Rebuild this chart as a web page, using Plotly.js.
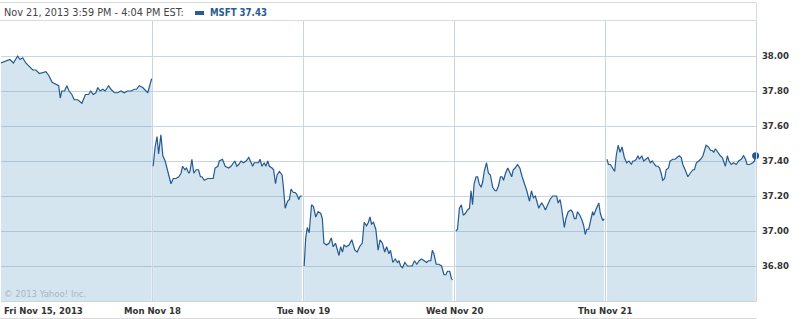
<!DOCTYPE html>
<html><head><meta charset="utf-8">
<script src="https://cdn.plot.ly/plotly-3.0.1.min.js"></script>
<style>html,body{margin:0;padding:0;background:#fff;}#chart{width:801px;height:319px;}</style>
</head><body><div id="chart"></div>
<script>
// ---- data ----
const dayLabels = ['Fri Nov 15, 2013', 'Mon Nov 18', 'Tue Nov 19', 'Wed Nov 20', 'Thu Nov 21'];
const yTicks = [36.8, 37.0, 37.2, 37.4, 37.6, 37.8, 38.0];
const headerText = 'Nov 21, 2013 3:59 PM - 4:04 PM EST:';
const symbol = 'MSFT';
const SESSION_MIN = 390; // 9:30 - 16:00

// minutes after the open, and price
const friMin = [0,13,23,32,43,49,56,64,73,82,90,99,116,123,132,142,149,153,157,164,170,176,183,189,198,209,218,226,232,238,245,250,256,263,269,278,284,293,301,310,318,327,336,344,350,357,366,379,385,389];
const friPx  = [37.96,37.97,37.98,37.96,38.00,37.98,37.99,37.96,37.94,37.92,37.92,37.90,37.91,37.89,37.85,37.84,37.83,37.76,37.80,37.80,37.83,37.80,37.78,37.75,37.75,37.73,37.78,37.78,37.80,37.78,37.79,37.82,37.80,37.81,37.80,37.83,37.81,37.79,37.79,37.80,37.79,37.80,37.80,37.81,37.81,37.83,37.82,37.79,37.83,37.87];

const monMin = [3,8,13,17,23,28,34,40,49,55,62,69,75,79,85,89,95,98,103,108,114,120,125,129,135,144,152,158,163,170,174,182,189,198,204,210,214,219,224,230,236,243,250,256,260,264,270,275,279,284,290,294,299,303,310,314,319,323,329,336,339,344,350,355,359,365,370,374,379,383,387];
const monPx  = [37.37,37.48,37.54,37.44,37.55,37.43,37.40,37.35,37.27,37.30,37.30,37.31,37.33,37.37,37.35,37.36,37.33,37.34,37.41,37.33,37.35,37.35,37.31,37.31,37.29,37.30,37.30,37.30,37.36,37.37,37.40,37.41,37.37,37.36,37.37,37.39,37.40,37.37,37.38,37.40,37.39,37.40,37.42,37.39,37.37,37.39,37.39,37.39,37.41,37.37,37.39,37.37,37.40,37.37,37.36,37.35,37.27,37.32,37.34,37.32,37.26,37.13,37.17,37.18,37.24,37.22,37.22,37.21,37.18,37.20,37.20];

const tueMin = [3,7,11,16,22,27,33,39,46,50,54,61,67,73,78,84,89,93,97,102,106,112,119,126,130,134,140,146,153,158,164,169,173,177,182,188,194,199,205,211,216,222,226,232,238,244,248,252,257,263,270,276,282,288,294,300,306,313,319,324,330,334,338,344,351,358,364,369,373,379,383,386];
const tuePx  = [36.80,36.96,37.02,36.99,37.15,37.14,37.08,37.11,37.10,37.07,36.93,36.92,36.93,36.96,36.91,36.93,36.89,36.86,36.91,36.88,36.92,36.91,36.92,36.95,36.92,36.89,36.88,36.91,36.93,37.05,37.03,37.05,37.08,37.04,37.05,37.01,36.89,36.95,36.93,36.88,36.91,36.87,36.89,36.82,36.84,36.82,36.83,36.80,36.79,36.82,36.80,36.80,36.80,36.83,36.81,36.83,36.84,36.83,36.82,36.83,36.83,36.89,36.87,36.81,36.81,36.80,36.75,36.75,36.77,36.77,36.73,36.72];

const wedMin = [5,9,14,19,24,29,35,40,44,48,52,57,61,65,70,74,78,84,89,94,100,106,110,115,120,124,128,133,139,145,149,153,158,164,170,176,182,188,195,200,205,210,214,219,223,227,232,236,242,248,255,261,265,269,274,278,285,289,295,302,306,311,315,319,325,331,335,339,343,348,354,358,361,364,368,374,378,384,388];
const wedPx  = [37.00,37.01,37.13,37.15,37.09,37.10,37.12,37.13,37.23,37.15,37.27,37.31,37.31,37.27,37.25,37.28,37.34,37.39,37.33,37.32,37.25,37.23,37.23,37.26,37.31,37.31,37.29,37.33,37.36,37.33,37.31,37.35,37.36,37.38,37.36,37.31,37.27,37.23,37.17,37.23,37.19,37.20,37.17,37.13,37.15,37.16,37.14,37.12,37.15,37.18,37.20,37.20,37.20,37.16,37.18,37.13,37.02,37.07,37.11,37.12,37.11,37.07,37.07,37.11,37.09,37.06,37.03,36.98,37.01,37.01,37.08,37.11,37.09,37.11,37.13,37.16,37.10,37.06,37.07];

const thuMin = [5,9,14,19,25,29,34,39,44,50,56,62,68,72,76,81,85,89,95,100,106,111,117,122,128,132,137,141,145,149,154,158,164,168,175,181,186,192,197,201,207,214,220,227,231,236,242,247,253,257,261,267,273,277,281,285,291,298,303,307,311,316,320,326,332,339,345,352,358,363,367,373,382,386,389];
const thuPx  = [37.41,37.38,37.38,37.36,37.34,37.43,37.49,37.45,37.48,37.42,37.39,37.40,37.38,37.40,37.40,37.41,37.43,37.41,37.43,37.40,37.41,37.42,37.39,37.40,37.38,37.37,37.37,37.36,37.33,37.29,37.30,37.35,37.36,37.40,37.41,37.41,37.42,37.43,37.42,37.38,37.35,37.31,37.33,37.35,37.35,37.39,37.40,37.41,37.43,37.46,37.49,37.48,37.46,37.46,37.45,37.47,37.45,37.43,37.42,37.40,37.37,37.43,37.40,37.38,37.39,37.38,37.40,37.41,37.43,37.41,37.38,37.38,37.39,37.40,37.43];

// ---- drawing ----
const FONT = "'DejaVu Sans Condensed', 'Liberation Sans', sans-serif";
const LINE = '#245a90';
const FILL = 'rgba(87,151,195,0.25)';
const GRID = '#c9d6e0';
const BORDER = '#dadada';
const W = 801, H = 319, M = {l: 1, r: 45, t: 21, b: 18};
const PW = W - M.l - M.r, PH = H - M.t - M.b;
const px = v => (v - M.l) / PW;           // pixel -> paper x
const py = v => (H - M.b - v) / PH;       // pixel -> paper y

const sessions = [[friMin, friPx], [monMin, monPx], [tueMin, tuePx], [wedMin, wedPx], [thuMin, thuPx]];
const traces = sessions.map(([mins, prices], i) => ({
  type: 'scatter', mode: 'lines',
  x: mins.map(m => i + m / SESSION_MIN), y: prices,
  line: {color: LINE, width: 1.2},
  fill: 'tozeroy', fillcolor: FILL,
  hoverinfo: 'skip', showlegend: false
}));
const lastMin = thuMin[thuMin.length - 1], lastPx = thuPx[thuPx.length - 1];
traces.push({
  type: 'scatter', mode: 'markers',
  x: [4 + lastMin / SESSION_MIN], y: [lastPx],
  marker: {color: LINE, size: 7}, hoverinfo: 'skip', showlegend: false, cliponaxis: false
});

const annotations = [
  {xref: 'paper', yref: 'paper', x: px(2), y: py(12.5), xanchor: 'left', yanchor: 'middle',
   text: headerText, showarrow: false, font: {family: FONT, size: 10.8, color: '#444'}},
  {xref: 'paper', yref: 'paper', x: px(208), y: py(12.5), xanchor: 'left', yanchor: 'middle',
   text: symbol + ' ' + lastPx.toFixed(2), showarrow: false,
   font: {family: FONT, size: 9.6, color: '#2a5b92', weight: 'bold'}},
  {xref: 'paper', yref: 'paper', x: px(2), y: py(293), xanchor: 'left', yanchor: 'middle',
   text: '\u00a9 2013 Yahoo! Inc.', showarrow: false, font: {family: FONT, size: 9.5, color: '#a9b5bf'}}
];
dayLabels.forEach((lab, i) => {
  annotations.push({
    xref: i === 0 ? 'paper' : 'x', yref: 'paper',
    x: i === 0 ? px(2) : i, y: py(310.5),
    xanchor: i === 0 ? 'left' : 'center', yanchor: 'middle',
    text: lab, showarrow: false,
    font: {family: FONT, size: 9.5, color: '#333', weight: 'bold'}
  });
});

const shapes = [
  // header box
  {type: 'line', xref: 'paper', yref: 'paper', x0: px(0), x1: px(756.5), y0: py(2.5), y1: py(2.5), line: {color: BORDER, width: 1}},
  {type: 'line', xref: 'paper', yref: 'paper', x0: px(0), x1: px(756.5), y0: py(20.5), y1: py(20.5), line: {color: BORDER, width: 1}},
  {type: 'line', xref: 'paper', yref: 'paper', x0: px(756.5), x1: px(756.5), y0: py(2.5), y1: py(20.5), line: {color: BORDER, width: 1}},
  // bottom rule
  {type: 'line', xref: 'paper', yref: 'paper', x0: px(0), x1: px(756.5), y0: py(318.5), y1: py(318.5), line: {color: BORDER, width: 1}},
  // legend swatch
  {type: 'rect', xref: 'paper', yref: 'paper', x0: px(195), x1: px(204), y0: py(11), y1: py(15), line: {width: 0}, fillcolor: '#2a5b92'}
];

const layout = {
  width: W, height: H, margin: {l: M.l, r: M.r, t: M.t, b: M.b, pad: 0},
  paper_bgcolor: '#fff', plot_bgcolor: '#fff', showlegend: false,
  font: {family: FONT},
  xaxis: {range: [0, 5], tickvals: [0, 1, 2, 3, 4], showticklabels: false, ticks: '',
          showgrid: true, gridcolor: GRID, gridwidth: 1, zeroline: false,
          showline: true, linecolor: GRID, linewidth: 1, fixedrange: true},
  yaxis: {range: [36.6, 38.2], tickvals: yTicks, tickformat: '.2f', side: 'right', ticks: '',
          ticklabelstandoff: 3,
          showgrid: true, gridcolor: GRID, gridwidth: 1, zeroline: false,
          showline: true, linecolor: GRID, linewidth: 1, fixedrange: true,
          tickfont: {family: FONT, size: 9.5, color: '#333', weight: 'bold'}},
  annotations: annotations, shapes: shapes
};

Plotly.newPlot('chart', traces, layout, {staticPlot: true, displayModeBar: false});
</script>
</body></html>
